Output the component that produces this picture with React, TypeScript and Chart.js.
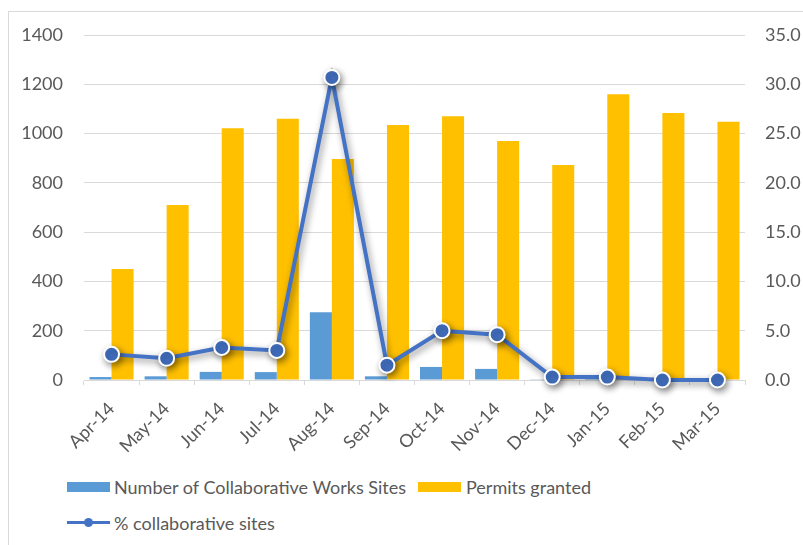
import React, { useEffect, useRef } from "react";
import { Chart, registerables } from "chart.js";

Chart.register(...registerables);

const months = ["Apr-14", "May-14", "Jun-14", "Jul-14", "Aug-14", "Sep-14", "Oct-14", "Nov-14", "Dec-14", "Jan-15", "Feb-15", "Mar-15"];
const collaborativeSites = [12, 15, 33, 32, 275, 15, 53, 45, 3, 4, 0, 0];
const permitsGranted = [450, 710, 1022, 1060, 897, 1035, 1070, 970, 872, 1160, 1083, 1048];
const pctCollaborative = [2.6, 2.2, 3.3, 3.0, 30.7, 1.5, 5.0, 4.6, 0.3, 0.3, 0.0, 0.0];

const FONT = "Lato, 'Liberation Sans', sans-serif";
const TEXT = "#595959";
const GRID = "#D9D9D9";
const BLUE = "#5B9BD5";
const ORANGE = "#FFC000";
const LINE = "#4472C4";

const shadowPlugin = {
  id: "lineShadow",
  beforeDatasetDraw(chart: any, args: any) {
    if (args.meta.type === "line") {
      const ctx = chart.ctx;
      ctx.save();
      ctx.shadowColor = "rgba(0,0,0,0.45)";
      ctx.shadowBlur = 7;
      ctx.shadowOffsetX = 2;
      ctx.shadowOffsetY = 3;
    }
  },
  afterDatasetDraw(chart: any, args: any) {
    if (args.meta.type === "line") {
      chart.ctx.restore();
    }
  },
};

export default function App() {
  const ref = useRef<HTMLCanvasElement | null>(null);

  useEffect(() => {
    if (!ref.current) return;
    const chart = new Chart(ref.current, {
      type: "bar",
      data: {
        labels: months,
        datasets: [
          {
            type: "line",
            label: "% collaborative sites",
            data: pctCollaborative,
            yAxisID: "y1",
            borderColor: LINE,
            backgroundColor: LINE,
            borderWidth: 4,
            pointRadius: 7.5,
            pointBorderWidth: 2,
            pointBorderColor: "#FFFFFF",
            pointBackgroundColor: LINE,
            tension: 0,
            clip: false as any,
            order: 0,
          } as any,
          {
            type: "bar",
            label: "Number of Collaborative Works Sites",
            data: collaborativeSites,
            yAxisID: "y",
            backgroundColor: BLUE,
            categoryPercentage: 0.8,
            barPercentage: 1.0,
            order: 1,
          },
          {
            type: "bar",
            label: "Permits granted",
            data: permitsGranted,
            yAxisID: "y",
            backgroundColor: ORANGE,
            categoryPercentage: 0.8,
            barPercentage: 1.0,
            order: 1,
          },
        ],
      },
      options: {
        animation: false,
        responsive: false,
        maintainAspectRatio: false,
        layout: { padding: { left: 0, right: 0, top: 35, bottom: 0 } },
        plugins: {
          legend: { display: false },
          tooltip: { enabled: false },
        },
        scales: {
          x: {
            offset: true,
            grid: {
              offset: true,
              drawOnChartArea: false,
              drawTicks: true,
              tickLength: 5,
              color: GRID,
            },
            border: { display: true, color: GRID, width: 1 },
            ticks: {
              color: TEXT,
              font: { family: FONT, size: 18 },
              minRotation: 45,
              maxRotation: 45,
              padding: 13,
              autoSkip: false,
            },
            afterFit(scale: any) {
              scale.height = 90;
            },
          },
          y: {
            position: "left",
            min: 0,
            max: 1400,
            ticks: {
              stepSize: 200,
              color: TEXT,
              font: { family: FONT, size: 18 },
              padding: 21,
              callback: (v: any) => String(v),
            },
            grid: { color: GRID, drawTicks: false },
            border: { display: false },
            afterFit(scale: any) {
              scale.width = 84;
            },
          },
          y1: {
            position: "right",
            min: 0,
            max: 35,
            ticks: {
              stepSize: 5,
              color: TEXT,
              font: { family: FONT, size: 18 },
              padding: 20,
              callback: (v: any) => Number(v).toFixed(1),
            },
            grid: { drawOnChartArea: false, drawTicks: false },
            border: { display: false },
            afterFit(scale: any) {
              scale.width = 58;
            },
          },
        },
      },
      plugins: [shadowPlugin],
    });
    return () => chart.destroy();
  }, []);

  const textStyle: React.CSSProperties = {
    position: "absolute",
    fontFamily: FONT,
    fontSize: 18,
    color: TEXT,
    lineHeight: "24px",
    whiteSpace: "nowrap",
  };

  return (
    <div style={{ position: "fixed", left: 0, top: 0, width: 803, height: 545, overflow: "hidden", background: "#fff" }}>
      <div style={{ position: "absolute", left: 8, top: 11, width: 820, height: 560, border: `1px solid ${GRID}` }} />
      <canvas ref={ref} width={803} height={470} style={{ position: "absolute", left: 0, top: 0, width: 803, height: 470 }} />
      <div style={{ position: "absolute", left: 67, top: 482, width: 43, height: 10, background: BLUE }} />
      <div style={{ ...textStyle, left: 114, top: 475 }}>Number of Collaborative Works Sites</div>
      <div style={{ position: "absolute", left: 418, top: 482, width: 43, height: 10, background: ORANGE }} />
      <div style={{ ...textStyle, left: 466, top: 475 }}>Permits granted</div>
      <div style={{ position: "absolute", left: 67, top: 521, width: 43, height: 3, background: LINE }} />
      <div style={{ position: "absolute", left: 84, top: 518, width: 9, height: 9, borderRadius: "50%", background: LINE }} />
      <div style={{ ...textStyle, left: 114, top: 511 }}>% collaborative sites</div>
    </div>
  );
}
